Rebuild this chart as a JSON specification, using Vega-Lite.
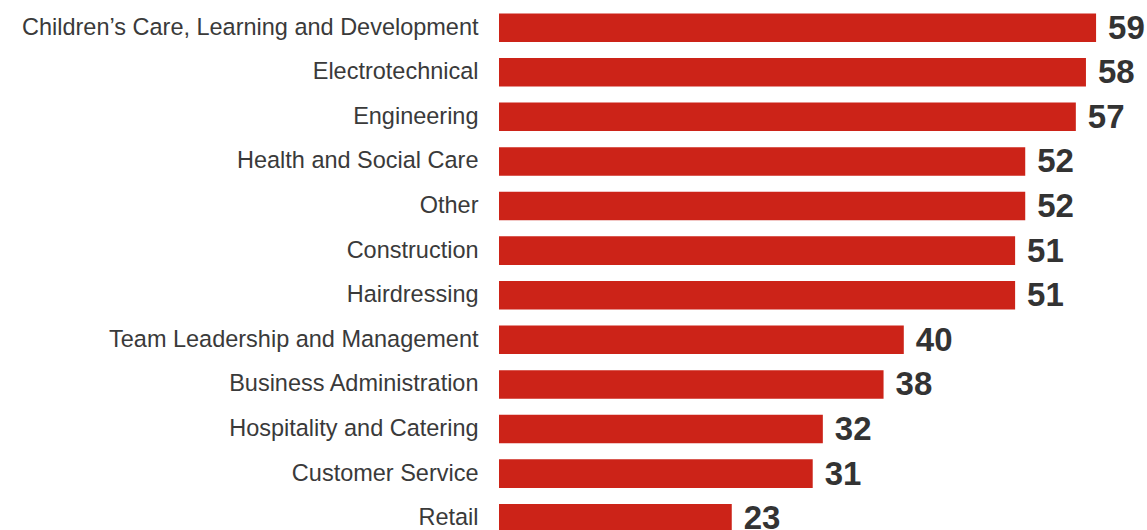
{
  "$schema": "https://vega.github.io/schema/vega-lite/v6.json",
  "autosize": {"type": "none"},
  "padding": {"left": 499, "top": 0, "right": 0, "bottom": 0},
  "width": 1012,
  "height": {"step": 44.6},
  "background": "white",
  "config": {"view": {"stroke": null}, "font": "Liberation Sans"},
  "data": {"values": [
    {"category": "Children’s Care, Learning and Development", "value": 59},
    {"category": "Electrotechnical", "value": 58},
    {"category": "Engineering", "value": 57},
    {"category": "Health and Social Care", "value": 52},
    {"category": "Other", "value": 52},
    {"category": "Construction", "value": 51},
    {"category": "Hairdressing", "value": 51},
    {"category": "Team Leadership and Management", "value": 40},
    {"category": "Business Administration", "value": 38},
    {"category": "Hospitality and Catering", "value": 32},
    {"category": "Customer Service", "value": 31},
    {"category": "Retail", "value": 23}
  ]},
  "encoding": {
    "y": {
      "field": "category", "type": "nominal", "sort": null,
      "scale": {"paddingInner": 0.36, "paddingOuter": 0.3},
      "axis": {"title": null, "ticks": false, "domain": false, "labelFontSize": 23.5, "labelColor": "#3a3a3a", "labelPadding": 21, "labelLimit": 700, "labelFont": "Liberation Sans"}
    },
    "x": {
      "field": "value", "type": "quantitative",
      "scale": {"domain": [0, 100]},
      "axis": null
    }
  },
  "layer": [
    {"mark": {"type": "bar", "color": "#cc2318"}},
    {"mark": {"type": "text", "align": "left", "baseline": "middle", "dx": 12, "dy": 1, "fontSize": 33, "fontWeight": "bold", "color": "#333333", "font": "Liberation Sans"},
     "encoding": {"text": {"field": "value", "type": "quantitative"}}}
  ]
}
